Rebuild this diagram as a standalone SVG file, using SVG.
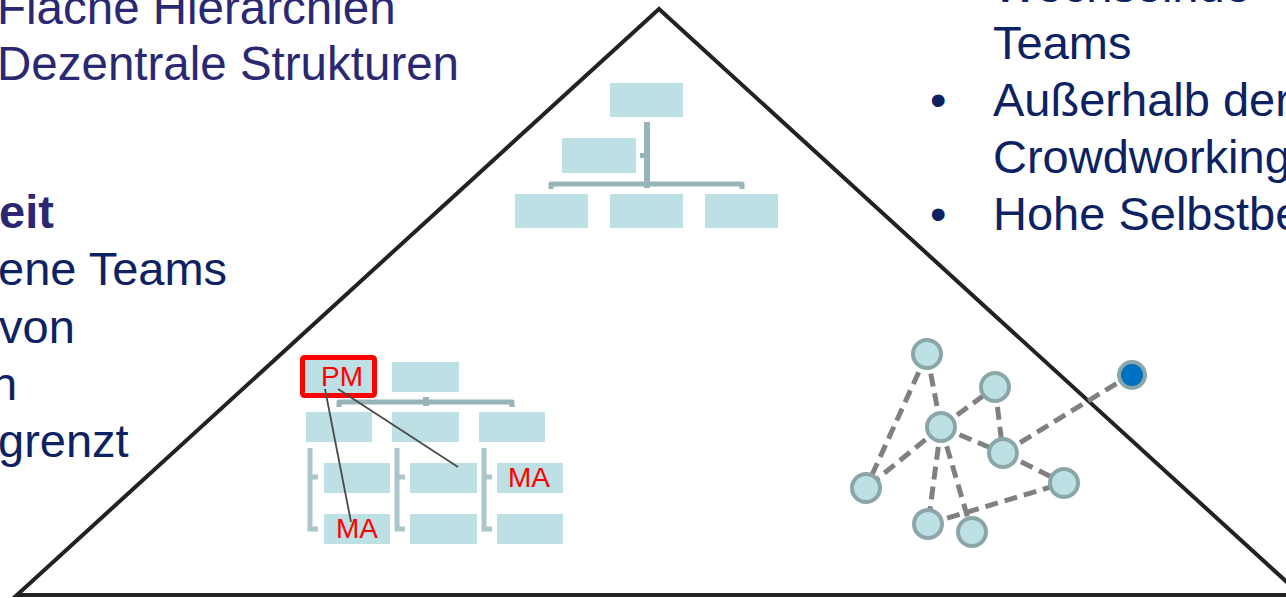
<svg xmlns="http://www.w3.org/2000/svg" width="1286" height="598" viewBox="0 0 1286 598">
<style>
.t{font-family:"Liberation Sans",Arial,sans-serif;font-size:47px;fill:#0c2262}
.tp{font-family:"Liberation Sans",Arial,sans-serif;font-size:47.5px;fill:#2a2872}
.b{font-weight:bold;fill:#2a2872}
.box{fill:#bce0e3}
.bar{fill:none;stroke:#97b4b8;stroke-width:5;stroke-linejoin:round;stroke-linecap:butt}
.red{font-family:"Liberation Sans",Arial,sans-serif;font-size:28px;fill:#ff0000}
.ln{stroke:#4a4a4a;stroke-width:1.8}
.edge{stroke:#808080;stroke-width:5;stroke-dasharray:13 7;fill:none}
.node{fill:#bce0e3;stroke:#8aa6a9;stroke-width:4}
</style>
<rect width="1286" height="598" fill="#fff"/>
<g id="pyramid">
<polygon points="659,9 17,595 1301,595" fill="none" stroke="#222" stroke-width="4"/>
</g>
<g id="text-left">
<text class="tp" x="-3" y="24">Flache Hierarchien</text>
<text class="tp" x="-3" y="80">Dezentrale Strukturen</text>
<text class="t b" x="-1" y="228">eit</text>
<text class="t" x="-2" y="285">ene Teams</text>
<text class="t" x="-1" y="343">von</text>
<text class="t" x="-9" y="400">n</text>
<text class="t" x="-2" y="457">grenzt</text>
</g>
<g id="text-right">
<text class="t" x="993" y="2">Wechselnde</text>
<text class="t" x="993" y="59">Teams</text>
<text class="t" x="930" y="116">•</text>
<text class="t" x="993" y="116">Außerhalb der</text>
<text class="t" x="993" y="173">Crowdworking</text>
<text class="t" x="930" y="230">•</text>
<text class="t" x="993" y="230">Hohe Selbstbe</text>
</g>
<g id="org-top">
<rect class="box" x="610" y="83" width="73" height="34"/>
<rect class="box" x="562" y="138" width="74" height="35"/>
<rect x="644" y="122" width="6" height="66" fill="#97b4b8"/>
<rect x="640" y="153" width="6" height="5" fill="#97b4b8"/>
<path class="bar" d="M551,189 V184 H742 V189"/>
<rect class="box" x="515" y="194" width="73" height="34"/>
<rect class="box" x="610" y="194" width="73" height="34"/>
<rect class="box" x="705" y="194" width="73" height="34"/>
</g>
<g id="org-bottom">
<rect class="box" x="305" y="360" width="67" height="33"/>
<rect x="302.5" y="357.5" width="72" height="38" rx="2" fill="none" stroke="#ff0000" stroke-width="5"/>
<rect class="box" x="392" y="362" width="67" height="30"/>
<path class="bar" d="M339,407 V402 H512 V407"/>
<rect x="423" y="397" width="6" height="9" fill="#97b4b8"/>
<rect class="box" x="306" y="412" width="66" height="30"/>
<rect class="box" x="392" y="412" width="67" height="30"/>
<rect class="box" x="479" y="412" width="66" height="30"/>
<path d="M310,448 V529 H318 M310,477 H318" fill="none" stroke="#aac6c9" stroke-width="5"/>
<path d="M397,448 V529 H405 M397,477 H405" fill="none" stroke="#aac6c9" stroke-width="5"/>
<path d="M484,448 V529 H492 M484,477 H492" fill="none" stroke="#aac6c9" stroke-width="5"/>
<rect class="box" x="324" y="463" width="66" height="30"/>
<rect class="box" x="410" y="463" width="67" height="30"/>
<rect class="box" x="497" y="463" width="66" height="30"/>
<rect class="box" x="324" y="514" width="66" height="30"/>
<rect class="box" x="410" y="514" width="67" height="30"/>
<rect class="box" x="497" y="514" width="66" height="30"/>
<text class="red" x="321" y="386">PM</text>
<text class="red" x="508" y="487">MA</text>
<text class="red" x="336" y="538">MA</text>
</g>
<g id="connectors">
<line class="ln" x1="325" y1="389" x2="351" y2="522"/>
<line class="ln" x1="338" y1="389" x2="458" y2="467"/>
<line class="edge" x1="927" y1="354" x2="866" y2="488"/>
<line class="edge" x1="927" y1="354" x2="941" y2="427"/>
<line class="edge" x1="941" y1="427" x2="995" y2="387"/>
<line class="edge" x1="995" y1="387" x2="1003" y2="453"/>
<line class="edge" x1="941" y1="427" x2="1003" y2="453"/>
<line class="edge" x1="941" y1="427" x2="866" y2="488"/>
<line class="edge" x1="941" y1="427" x2="928" y2="524"/>
<line class="edge" x1="941" y1="427" x2="972" y2="532"/>
<line class="edge" x1="1003" y1="453" x2="1064" y2="483"/>
<line class="edge" x1="1003" y1="453" x2="1132" y2="374"/>
<line class="edge" x1="928" y1="524" x2="1064" y2="483"/>
</g>
<g id="network-nodes">
<circle id="n1" class="node" cx="927" cy="354" r="14"/>
<circle id="n2" class="node" cx="995" cy="387" r="14"/>
<circle id="n3" class="node" cx="941" cy="427" r="14"/>
<circle id="n4" class="node" cx="1003" cy="453" r="14"/>
<circle id="n5" class="node" cx="866" cy="488" r="14"/>
<circle id="n6" class="node" cx="1064" cy="483" r="14"/>
<circle id="n7" class="node" cx="928" cy="524" r="14"/>
<circle id="n8" class="node" cx="972" cy="532" r="14"/>
<circle id="n9" cx="1132" cy="375" r="13" fill="#0070c0" stroke="#8aa6a9" stroke-width="4"/>
</g>
</svg>
